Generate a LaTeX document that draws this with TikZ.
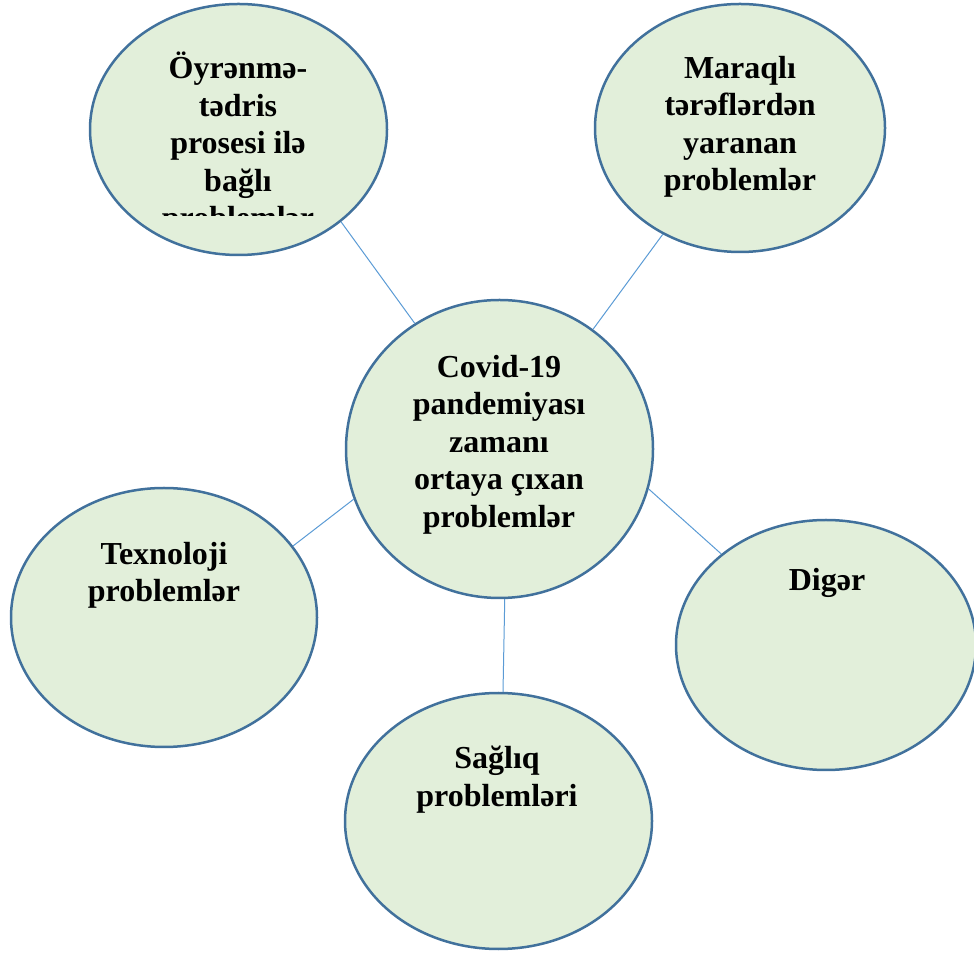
\documentclass[tikz,border=0pt]{standalone}
\usepackage{fontspec}
\setmainfont{Liberation Serif}
\usetikzlibrary{shapes.geometric}
\definecolor{bubblefill}{RGB}{226,239,218}
\definecolor{bubbleline}{RGB}{65,113,156}
\definecolor{linkline}{RGB}{91,155,213}
\tikzset{
  bubble/.style = {ellipse, draw=bubbleline, fill=bubblefill,
                   line width=2.5pt, inner sep=0pt,
                   minimum width=2*#1},
  label/.style  = {anchor=north, align=center, inner sep=0pt,
                   font=\fontsize{32}{37.5}\selectfont\bfseries,
                   execute at begin node=\strut},
  link/.style   = {draw=linkline, line width=1pt}
}

\begin{document}
\begin{tikzpicture}[x=1pt, y=1pt]
	\useasboundingbox (0,0) rectangle (974,953);

	% Bubbles
	\node[bubble=148.5, minimum height=251] (tl) at (238.5,823.5) {};
	\node[bubble=145,   minimum height=248] (tr) at (740,825) {};
	\node[bubble=153.5, minimum height=298] (c)  at (499.5,504) {};
	\node[bubble=153,   minimum height=259] (l)  at (164,335.5) {};
	\node[bubble=150,   minimum height=250] (r)  at (826,308) {};
	\node[bubble=153.5, minimum height=256] (b)  at (498.5,132) {};

	% Links
	\draw[link] (c.124.9)  -- (tl.-42.3);
	\draw[link] (c.52.8)   -- (tr.-126.2);
	\draw[link] (c.-161.6) -- (l.29.5);
	\draw[link] (c.-15.5)  -- (r.139.5);
	\draw[link] (c.-88.6)  -- (b.88.9);

	% Texts
	\begin{scope}
		\clip (90,737.5) rectangle (390,953); % text box cut off
		\node[label] (tl-text) at (238,901) {Öyrənmə-\\tədris\\prosesi ilə\\bağlı\\problemlər};
	\end{scope}
	\node[label] (tr-text) at (740,897) {Maraqlı\\tərəflərdən\\yaranan\\problemlər};
	\node[label] (c-text)  at (499,598) {Covid-19\\pandemiyası\\zamanı\\ortaya çıxan\\problemlər};
	\node[label] (l-text)  at (164,411) {Texnoloji\\problemlər};
	\node[label] (r-text)  at (827,389) {Digər};
	\node[label] (b-text)  at (497,207) {Sağlıq\\problemləri};

\end{tikzpicture}
\end{document}
